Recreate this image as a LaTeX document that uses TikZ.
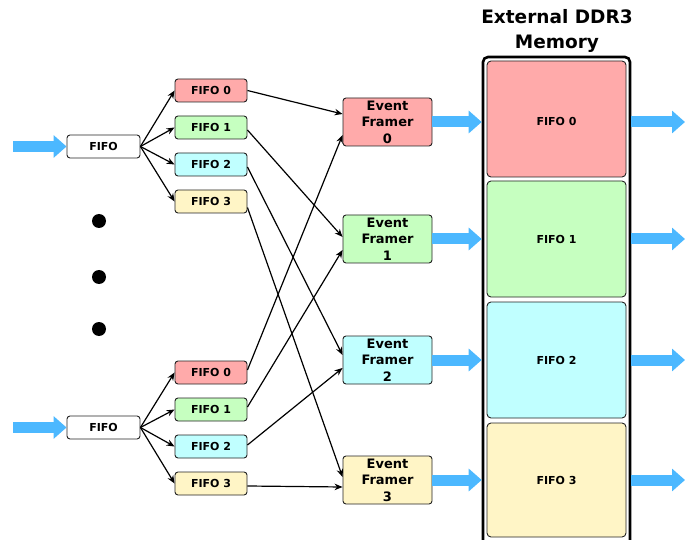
\documentclass[tikz,border=0pt]{standalone}
\usepackage{fontspec}
\setmainfont{DejaVu Sans}
\usetikzlibrary{arrows.meta}
\definecolor{fred}{HTML}{FFAAAA}
\definecolor{fgreen}{HTML}{C6FFC0}
\definecolor{fcyan}{HTML}{C0FFFF}
\definecolor{fyellow}{HTML}{FFF5C6}
\definecolor{ablue}{HTML}{4CB8FF}
\definecolor{edge}{HTML}{222222}
\tikzset{
  box/.style={draw=edge, line width=0.9pt, rounded corners=3pt, inner sep=0pt},
  subfifo/.style={box, minimum width=72pt, minimum height=23pt, font=\bfseries\fontsize{11}{13}\selectfont},
  mainfifo/.style={subfifo, minimum width=73pt, fill=white},
  framer/.style={box, minimum width=89pt, minimum height=48pt, align=center, font=\bfseries\fontsize{13}{16.5}\selectfont},
  membox/.style={box, rounded corners=4pt, minimum width=139pt, font=\bfseries\fontsize{11}{13}\selectfont},
  conn/.style={-{Stealth[length=8pt,width=6.5pt]}, line width=1.2pt, black},
  bigarrow/.style={-{Triangle[length=13pt,width=22pt]}, line width=11pt, draw=ablue},
  dot/.style={circle, fill=black, minimum size=14pt, inner sep=0pt}
}
\begin{document}
\begin{tikzpicture}[x=1pt,y=-1pt]
\useasboundingbox (0,0) rectangle (691,540);

% title
\node[font=\bfseries\fontsize{18.5}{24.5}\selectfont, align=center] (title) at (557,31) {External DDR3\\Memory};

% outer memory box
\node[draw=black, line width=2.6pt, rounded corners=5pt, minimum width=147pt, minimum height=490pt, inner sep=0pt] (mem) at (556.5,302) {};

% memory fifos
\node[membox, fill=fred, minimum height=116pt, text height=14pt, text depth=0pt] (m0) at (556.5,119) {FIFO 0};
\node[membox, fill=fgreen, minimum height=116pt] (m1) at (556.5,239) {FIFO 1};
\node[membox, fill=fcyan, minimum height=116pt] (m2) at (556.5,360) {FIFO 2};
\node[membox, fill=fyellow, minimum height=114pt] (m3) at (556.5,480) {FIFO 3};

% event framers
\node[framer, fill=fred] (f0) at (387.5,122) {Event\\Framer\\0};
\node[framer, fill=fgreen] (f1) at (387.5,239) {Event\\Framer\\1};
\node[framer, fill=fcyan] (f2) at (387.5,360) {Event\\Framer\\2};
\node[framer, fill=fyellow] (f3) at (387.5,480) {Event\\Framer\\3};

% main fifos
\node[mainfifo] (t) at (103.5,146.5) {FIFO};
\node[mainfifo] (b) at (103.5,427.5) {FIFO};

% sub fifos top
\node[subfifo, fill=fred] (t0) at (211,90.5) {FIFO 0};
\node[subfifo, fill=fgreen] (t1) at (211,127.5) {FIFO 1};
\node[subfifo, fill=fcyan] (t2) at (211,164.5) {FIFO 2};
\node[subfifo, fill=fyellow] (t3) at (211,201.5) {FIFO 3};

% sub fifos bottom
\node[subfifo, fill=fred] (b0) at (211,372.5) {FIFO 0};
\node[subfifo, fill=fgreen] (b1) at (211,409.5) {FIFO 1};
\node[subfifo, fill=fcyan] (b2) at (211,446.5) {FIFO 2};
\node[subfifo, fill=fyellow] (b3) at (211,483.5) {FIFO 3};

% dots
\node[dot] (d1) at (99,221) {};
\node[dot] (d2) at (99,277) {};
\node[dot] (d3) at (99,329) {};

% input arrows
\coordinate (inT) at (13,146.5);
\coordinate (inB) at (13,427.5);
\draw[bigarrow] (inT) -- (t.west);
\draw[bigarrow] (inB) -- (b.west);

% fan out
\foreach \s in {t0,t1,t2,t3} \draw[conn] (t.east) -- (\s.west);
\foreach \s in {b0,b1,b2,b3} \draw[conn] (b.east) -- (\s.west);

% crossing connections
\draw[conn] (t0.east) -- ([yshift=8pt]f0.west);
\draw[conn] ([yshift=-2.5pt]t1.east) -- ([yshift=2pt]f1.west);
\draw[conn] ([yshift=-2.5pt]t2.east) -- ([yshift=5pt]f2.west);
\draw[conn] ([yshift=-6pt]t3.east) -- ([yshift=3pt]f3.west);
\draw[conn] ([yshift=2.5pt]b0.east) -- ([yshift=-13pt]f0.west);
\draw[conn] ([yshift=2.5pt]b1.east) -- ([yshift=-11pt]f1.west);
\draw[conn] ([yshift=1.5pt]b2.east) -- ([yshift=-8pt]f2.west);
\draw[conn] ([yshift=-2.5pt]b3.east) -- ([yshift=-7pt]f3.west);

% framer to memory
\foreach \i in {0,1,2,3} \draw[bigarrow] (f\i.east) -- (f\i.east -| mem.west);

% memory out
\foreach \i in {0,1,2,3} {
  \coordinate (o\i) at (685,0 |- f\i.east);
  \draw[bigarrow] (f\i.east -| mem.east) -- (o\i);
}
\end{tikzpicture}
\end{document}
